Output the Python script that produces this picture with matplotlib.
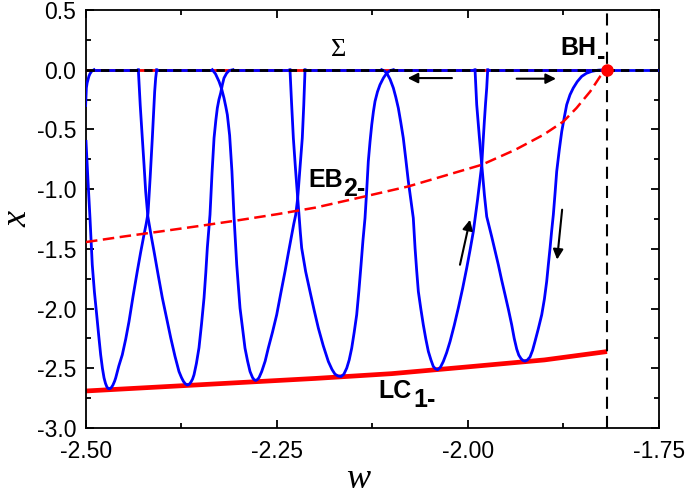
import matplotlib
matplotlib.use("Agg")
import matplotlib.pyplot as plt
from matplotlib.ticker import MultipleLocator, FormatStrFormatter

plt.rcParams['font.family'] = ['Liberation Sans', 'DejaVu Sans']
plt.rcParams['axes.unicode_minus'] = False

# parameter value at the boundary-Hopf point
w_bh = -1.818

# LC1- (limit cycle branch, red solid)
lc_w = [-2.5, -2.4, -2.3, -2.2, -2.1, -2.0, -1.9, -1.818]
lc_x = [-2.69, -2.655, -2.62, -2.585, -2.545, -2.488, -2.43, -2.36]

# EB2- (equilibrium branch, red dashed)
eb_w = [-2.5, -2.45, -2.40, -2.35, -2.30, -2.25, -2.20, -2.135, -2.078, -2.026,
        -1.982, -1.938, -1.901, -1.875, -1.858, -1.840, -1.827, -1.818]
eb_x = [-1.443, -1.396, -1.352, -1.307, -1.26, -1.21, -1.155, -1.061, -0.977, -0.879,
        -0.796, -0.670, -0.544, -0.433, -0.321, -0.182, -0.056, 0.0]

# blue trajectory, piece by piece
arc0_w = [-2.5005, -2.5, -2.4995, -2.4985, -2.4974, -2.4962, -2.4948, -2.4925, -2.4895]
arc0_x = [-0.30, -0.224, -0.151, -0.11, -0.084, -0.055, -0.034, -0.012, 0.0]

dip1_w = [-2.5, -2.4974, -2.4948, -2.4918, -2.4890, -2.4860, -2.4833, -2.4808, -2.4785,
          -2.4764, -2.4745, -2.4728, -2.4712, -2.4699, -2.4685, -2.4668, -2.4648, -2.4625,
          -2.4611, -2.4570, -2.4525, -2.4480, -2.4437, -2.4385, -2.4329, -2.4285, -2.4241,
          -2.4212, -2.4188, -2.4160, -2.4132, -2.4112, -2.4101, -2.4088, -2.4075]
dip1_x = [-0.60, -0.93, -1.239, -1.633, -1.86, -2.052, -2.23, -2.387, -2.50,
          -2.580, -2.626, -2.654, -2.668, -2.672, -2.670, -2.661, -2.641, -2.607,
          -2.580, -2.48, -2.387, -2.255, -2.108, -1.90, -1.689, -1.53, -1.382,
          -1.29, -1.20, -0.90, -0.572, -0.32, -0.182, -0.07, 0.0]

dip2_w = [-2.4315, -2.4290, -2.4263, -2.4240, -2.4219, -2.4190, -2.4150, -2.4110, -2.4055,
          -2.4001, -2.3945, -2.3891, -2.3835, -2.3783, -2.3750, -2.3724, -2.3700, -2.3674,
          -2.3650, -2.3626, -2.3605, -2.3586, -2.3555, -2.3521, -2.3488, -2.3455, -2.3432,
          -2.3412, -2.3377, -2.3350, -2.3324, -2.3300, -2.3281, -2.3260, -2.3237, -2.3215,
          -2.3194, -2.3160, -2.3128, -2.3076]
dip2_x = [0.0, -0.30, -0.572, -0.80, -1.019, -1.23, -1.38, -1.52, -1.72,
          -1.91, -2.08, -2.245, -2.40, -2.527, -2.578, -2.610, -2.630, -2.640,
          -2.635, -2.615, -2.59, -2.554, -2.46, -2.328, -2.13, -1.910, -1.70,
          -1.491, -1.214, -0.86, -0.572, -0.42, -0.321, -0.25, -0.195, -0.125,
          -0.070, -0.030, -0.008, 0.0]

dip3_w = [-2.3347, -2.3305, -2.3259, -2.3225, -2.3194, -2.3170, -2.3150, -2.3120, -2.3090,
          -2.3063, -2.3045, -2.3027, -2.3005, -2.2984, -2.2950, -2.2919, -2.2885, -2.2853,
          -2.2820, -2.2800, -2.2779, -2.2757, -2.2735, -2.2700, -2.2655, -2.2614, -2.2560,
          -2.2504, -2.2450, -2.2395, -2.2350, -2.2307, -2.2280, -2.2255, -2.2229, -2.2200,
          -2.2169, -2.2150, -2.2133]
dip3_x = [0.0, -0.035, -0.098, -0.16, -0.237, -0.31, -0.377, -0.55, -0.85,
          -1.229, -1.43, -1.633, -1.82, -1.996, -2.17, -2.331, -2.44, -2.527,
          -2.578, -2.595, -2.602, -2.595, -2.578, -2.527, -2.44, -2.331, -2.20,
          -2.052, -1.87, -1.689, -1.53, -1.382, -1.29, -1.214, -1.075, -0.83,
          -0.572, -0.30, 0.0]

dip4_w = [-2.2330, -2.2310, -2.2286, -2.2258, -2.2229, -2.2212, -2.2195, -2.2177, -2.2125,
          -2.2068, -2.2015, -2.1959, -2.1895, -2.1828, -2.1780, -2.1741, -2.1700, -2.1662,
          -2.1625, -2.1587, -2.1555, -2.1522, -2.1490, -2.1457, -2.1428, -2.1400, -2.1375,
          -2.1348, -2.1325, -2.1305, -2.1282, -2.1260, -2.1238, -2.1217, -2.1185, -2.1152,
          -2.1108, -2.1064, -2.1020, -2.0977]
dip4_x = [0.0, -0.27, -0.572, -0.83, -1.075, -1.214, -1.36, -1.493, -1.69,
          -1.857, -2.01, -2.163, -2.31, -2.443, -2.51, -2.549, -2.565, -2.569,
          -2.55, -2.498, -2.43, -2.331, -2.20, -2.052, -1.85, -1.633, -1.43,
          -1.242, -1.00, -0.768, -0.60, -0.461, -0.35, -0.265, -0.185, -0.126,
          -0.07, -0.028, -0.008, 0.0]

dip5_w = [-2.1130, -2.1095, -2.1064, -2.1020, -2.0977, -2.0945, -2.0912, -2.0880, -2.0847,
          -2.0814, -2.0781, -2.0748, -2.0716, -2.0693, -2.0672, -2.0650, -2.0618, -2.0585,
          -2.0552, -2.0519, -2.0485, -2.0454, -2.0425, -2.0396, -2.0360, -2.0323, -2.0280,
          -2.0235, -2.0180, -2.0127, -2.0070, -2.0017, -1.9973, -1.9930, -1.9875, -1.9820,
          -1.9803, -1.9786, -1.9770, -1.9755, -1.9748, -1.9742]
dip5_x = [0.0, -0.01, -0.028, -0.08, -0.153, -0.23, -0.321, -0.44, -0.572,
          -0.75, -0.935, -1.09, -1.242, -1.493, -1.68, -1.857, -2.00, -2.136,
          -2.255, -2.359, -2.43, -2.485, -2.505, -2.512, -2.49, -2.443, -2.37,
          -2.276, -2.14, -1.996, -1.83, -1.661, -1.51, -1.354, -1.089, -0.796,
          -0.61, -0.433, -0.28, -0.153, -0.07, 0.0]

dip6_w = [-1.9908, -1.9886, -1.9853, -1.9820, -1.9785, -1.9755, -1.9689, -1.9603, -1.9560,
          -1.9515, -1.9470, -1.9428, -1.9395, -1.9362, -1.9335, -1.9305, -1.9280, -1.9254,
          -1.9225, -1.9188, -1.9155, -1.9123, -1.9080, -1.9035, -1.9000, -1.8970, -1.8948,
          -1.8926, -1.8905, -1.8883, -1.8860, -1.8839, -1.8805, -1.8773, -1.8740, -1.8708,
          -1.8665, -1.8622, -1.8570, -1.8512, -1.8450, -1.8381, -1.8300, -1.8207]
dip6_x = [0.0, -0.293, -0.55, -0.796, -1.05, -1.23, -1.40, -1.633, -1.76,
          -1.884, -2.01, -2.136, -2.25, -2.340, -2.39, -2.42, -2.435, -2.440,
          -2.432, -2.405, -2.35, -2.275, -2.17, -2.052, -1.92, -1.773, -1.63,
          -1.493, -1.35, -1.214, -1.03, -0.852, -0.67, -0.517, -0.40, -0.293,
          -0.21, -0.153, -0.10, -0.056, -0.030, -0.014, -0.004, 0.0]

# sliding segments of the trajectory on the switching line
slide_start = [-2.4895, -2.4075, -2.3076, -2.2133, -2.0977, -1.9742]
slide_end = [-2.4315, -2.3347, -2.2330, -2.1130, -1.9908, -1.75]

fig = plt.figure(figsize=(6.85, 4.96), dpi=100)
ax = fig.add_axes([86 / 685, 68 / 496, 573 / 685, 418 / 496])

blue = '#0000ff'
red = '#ff0000'

# switching manifold Sigma
ax.plot([-2.5, w_bh], [0, 0], color=red, lw=2.0, zorder=2)
for a, b in zip(slide_start, slide_end):
    ax.plot([a, b], [0, 0], color=blue, lw=2.0, zorder=3)

pieces = [(arc0_w, arc0_x), (dip1_w, dip1_x), (dip2_w, dip2_x), (dip3_w, dip3_x),
          (dip4_w, dip4_x), (dip5_w, dip5_x), (dip6_w, dip6_x)]
for pw, px in pieces:
    ax.plot(pw, px, color=blue, lw=2.0, zorder=3, solid_joinstyle='round')

ax.plot(lc_w, lc_x, color=red, lw=3.4, zorder=2, solid_capstyle='butt')
ax.plot(eb_w, eb_x, color=red, lw=1.8, dashes=(4.6, 2.2), zorder=4)

ax.plot([-2.5, -1.75], [0, 0], color='k', lw=2.0, dashes=(3.0, 2.2), zorder=5)
ax.axvline(w_bh, color='k', lw=1.5, dashes=(5.8, 3.4), zorder=5)
ax.plot([w_bh], [0], 'o', color=red, ms=8, zorder=6)

arrows = [((-2.021, -0.07), (-2.079, -0.07)),
          ((-1.9363, -0.075), (-1.8848, -0.075)),
          ((-2.0105, -1.633), (-1.9974, -1.256)),
          ((-1.8768, -1.172), (-1.8834, -1.59))]
for tail, head in arrows:
    ax.annotate('', xy=head, xytext=tail,
                arrowprops=dict(arrowstyle='-|>', color='k', lw=1.5,
                                mutation_scale=15, shrinkA=0, shrinkB=0))

ax.text(-2.1688, 0.163, 'Σ', fontsize=19, family='Liberation Serif',
        ha='center', va='center')


def label(w, x, main, sub, dx):
    t = ax.text(w, x, main, fontsize=18, fontweight='bold', va='baseline')
    ax.annotate(sub, xy=(1, 0), xycoords=t, xytext=(dx, -6.5),
                textcoords='offset points', fontsize=18, fontweight='bold',
                va='bottom', ha='left')


label(-1.8796, 0.126, 'BH', '-', 1.0)
label(-2.2094, -0.980, 'EB', '2-', 0.3)
label(-2.1174, -2.749, 'LC', '1-', 1.5)

ax.set_xlim(-2.5, -1.75)
ax.set_ylim(-3.0, 0.5)
ax.xaxis.set_major_locator(MultipleLocator(0.25))
ax.xaxis.set_minor_locator(MultipleLocator(0.125))
ax.yaxis.set_major_locator(MultipleLocator(0.5))
ax.yaxis.set_minor_locator(MultipleLocator(0.25))
ax.xaxis.set_major_formatter(FormatStrFormatter('%.2f'))
ax.yaxis.set_major_formatter(FormatStrFormatter('%.1f'))
ax.tick_params(which='both', direction='in', top=True, right=True, width=1.3)
ax.tick_params(which='major', length=6, labelsize=16.5)
ax.tick_params(axis='x', which='major', pad=9)
ax.tick_params(axis='y', which='major', pad=7)
ax.tick_params(which='minor', length=3.5)
for s in ax.spines.values():
    s.set_linewidth(1.3)

ax.set_xlabel('w', fontsize=26, fontstyle='italic', family='Liberation Serif', labelpad=0)
ax.xaxis.label.set_x(0.475)
ax.set_ylabel('x', fontsize=26, fontstyle='italic', family='Liberation Serif', labelpad=2)

fig.savefig('out.png', dpi=100)
